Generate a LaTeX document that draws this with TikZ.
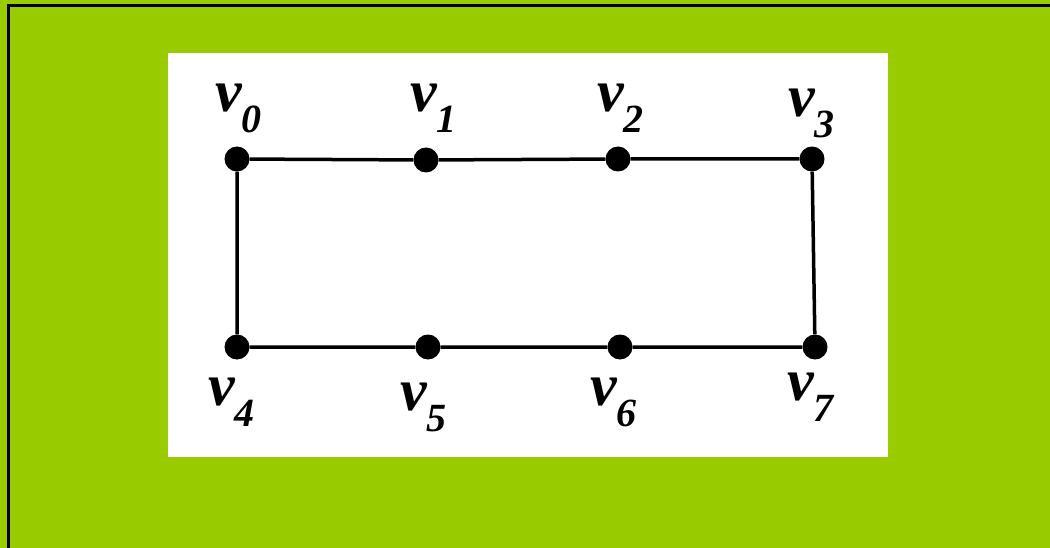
\documentclass[tikz,border=0pt]{standalone}
\usepackage{fontspec}
\setmainfont{Liberation Serif}
\definecolor{bggreen}{HTML}{99CC00}
\newcommand{\vlab}[1]{\fontsize{60}{60}\selectfont\bfseries\itshape v\raisebox{-21pt}{\fontsize{40}{40}\selectfont #1}}
\tikzset{
  vdot/.style={circle,fill=black,inner sep=0pt,minimum size=25pt},
  vlabel/.style={anchor=base west,inner sep=0pt},
  edge/.style={line width=3.5pt}
}
\begin{document}
\begin{tikzpicture}[x=1pt,y=-1pt]
\useasboundingbox (0,0) rectangle (1050,548);
\fill[bggreen] (0,0) rectangle (1050,548);
\draw[line width=3pt] (8,548) -- (8,6) -- (1050,6);
\fill[white] (168,53) rectangle (888,457);
\node[vdot] (v0) at (237,159) {};
\node[vdot] (v1) at (426,160) {};
\node[vdot] (v2) at (618,159) {};
\node[vdot] (v3) at (812,159) {};
\node[vdot] (v4) at (237,347) {};
\node[vdot] (v5) at (428,347) {};
\node[vdot] (v6) at (620,347) {};
\node[vdot] (v7) at (815,347) {};
\draw[edge] (v0) -- (v1) -- (v2) -- (v3) -- (v7) -- (v6) -- (v5) -- (v4) -- (v0);
\node[vlabel] (l0) at (215,112) {\vlab{0}};
\node[vlabel] (l1) at (410,112) {\vlab{1}};
\node[vlabel] (l2) at (597,112) {\vlab{2}};
\node[vlabel] (l3) at (788,117) {\vlab{3}};
\node[vlabel] (l4) at (208,405) {\vlab{4}};
\node[vlabel] (l5) at (400,410) {\vlab{5}};
\node[vlabel] (l6) at (590,405) {\vlab{6}};
\node[vlabel] (l7) at (787,400) {\vlab{7}};
\end{tikzpicture}
\end{document}
